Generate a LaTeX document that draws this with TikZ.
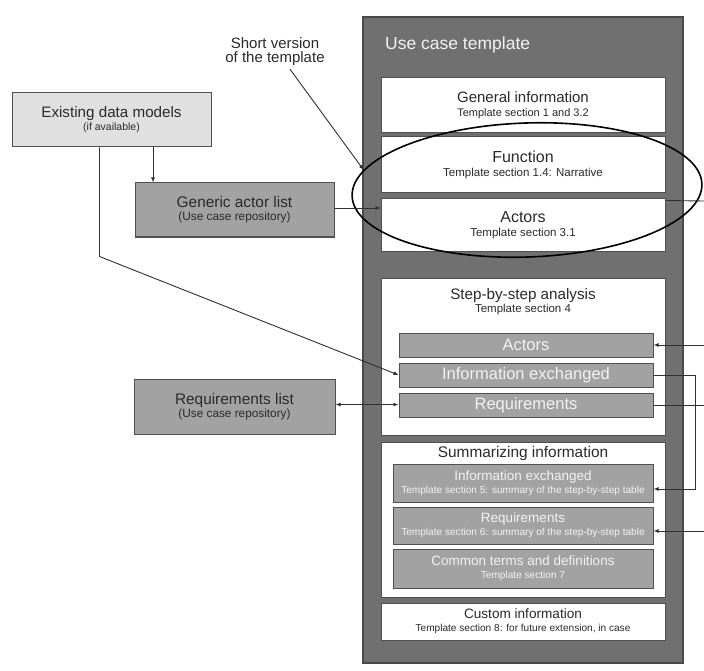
\documentclass[tikz,border=0pt]{standalone}
\usepackage{fontspec}
\setmainfont{Liberation Sans}
\usetikzlibrary{shapes.geometric,arrows.meta}
\definecolor{bigfill}{HTML}{707070}
\definecolor{bigline}{HTML}{4A4A4A}
\definecolor{midfill}{HTML}{A2A2A2}
\definecolor{lightfill}{HTML}{E0E0E0}
\definecolor{edge}{HTML}{505050}
\definecolor{wtext}{HTML}{F2F2F2}
\definecolor{dtext}{HTML}{2A2A2A}
\definecolor{conn}{HTML}{303030}
\newcommand{\fs}[2]{{\fontsize{#1}{#1}\selectfont #2}}
\begin{document}
\begin{tikzpicture}[x=1pt,y=-1pt,
  box/.style={draw=edge,line width=1pt,inner sep=0pt,align=center,text=dtext},
  whitebox/.style={box,fill=white},
  greybox/.style={box,fill=midfill},
  bar/.style={box,fill=midfill,text=wtext},
  conline/.style={draw=conn,line width=0.9pt},
  arr/.style={conline,-{Latex[length=5pt,width=4pt]}},
  dblarr/.style={conline,{Latex[length=5pt,width=4pt]}-{Latex[length=5pt,width=4pt]}}]
\useasboundingbox (0,0) rectangle (704,671);
\fill[white] (0,0) rectangle (704,671);

% big template box
\node[draw=bigline,fill=bigfill,line width=1.2pt,minimum width=320pt,minimum height=646pt,inner sep=0pt] (big) at (523,340) {};
\node[anchor=west,text=wtext,inner sep=0pt] (bigtitle) at (385,45) {\fs{17.5}{Use case template}};

% upper white boxes
\node[whitebox,minimum width=284pt,minimum height=55pt] (gen) at (523,105.5)
  {\fs{15}{General information}\\[2pt]\fs{11}{Template section 1 and 3.2}};
\node[whitebox,minimum width=284pt,minimum height=56pt] (func) at (523,165)
  {\fs{16}{Function}\\[2pt]\fs{11.5}{Template section 1.4: Narrative}};
\node[whitebox,minimum width=284pt,minimum height=52pt] (act) at (523,225)
  {\fs{16}{Actors}\\[2pt]\fs{11.5}{Template section 3.1}};

% step-by-step
\node[whitebox,minimum width=284pt,minimum height=157pt] (step) at (523,356.5) {};
\node[inner sep=0pt,text=dtext,align=center,anchor=north] (steptitle) at (523,288)
  {\fs{15.2}{Step-by-step analysis}\\[1pt]\fs{11.5}{Template section 4}};
\node[bar,minimum width=254pt,minimum height=24pt] (sact) at (526,345) {\fs{16.5}{Actors}};
\node[bar,minimum width=254pt,minimum height=24pt] (sinfo) at (526,375) {\fs{16.5}{Information exchanged}};
\node[bar,minimum width=254pt,minimum height=24pt] (sreq) at (526,405) {\fs{16.5}{Requirements}};

% summarizing
\node[whitebox,minimum width=284pt,minimum height=155pt] (summ) at (523,519.5) {};
\node[inner sep=0pt,text=dtext,anchor=north] (summtitle) at (523,446) {\fs{15.4}{Summarizing information}};
\node[bar,minimum width=260pt,minimum height=38pt] (qinfo) at (523,483)
  {\fs{13.5}{Information exchanged}\\[1pt]\fs{10.1}{Template section 5: summary of the step-by-step table}};
\node[bar,minimum width=260pt,minimum height=37pt] (qreq) at (523,525.5)
  {\fs{13.5}{Requirements}\\[1pt]\fs{10.1}{Template section 6: summary of the step-by-step table}};
\node[bar,minimum width=260pt,minimum height=39pt] (qterm) at (523,568.5)
  {\fs{13.5}{Common terms and definitions}\\[1pt]\fs{10.1}{Template section 7}};

\node[whitebox,minimum width=284pt,minimum height=37pt] (cust) at (523,621.5)
  {\fs{13.6}{Custom information}\\[1pt]\fs{10.1}{Template section 8: for future extension, in case}};

% ellipse
\node[draw=black,line width=1.6pt,ellipse,minimum width=350pt,minimum height=134pt,inner sep=0pt,rotate=2] (ell) at (527,190) {};

% left boxes
\node[box,fill=lightfill,minimum width=199pt,minimum height=54pt] (edm) at (111.5,120)
  {\fs{15.2}{Existing data models}\\[1pt]\fs{10.5}{(if available)}};
\node[greybox,minimum width=199pt,minimum height=54pt] (gal) at (234.5,210)
  {\fs{15.4}{Generic actor list}\\[1pt]\fs{11.8}{(Use case repository)}};
\node[greybox,minimum width=201pt,minimum height=55pt] (rl) at (234.5,406.5)
  {\fs{15.4}{Requirements list}\\[1pt]\fs{11.8}{(Use case repository)}};

\node[inner sep=0pt,align=center,text=dtext] (short) at (275,52)
  {\fs{15}{Short version}\\[2pt]\fs{15}{of the template}};

% right-edge free ends
\coordinate (rA) at (704,201);
\coordinate (rB) at (704,345);
\coordinate (rC) at (704,405);
\coordinate (rD) at (704,531);

% connectors
\draw[arr] ([xshift=15pt,yshift=-3pt]short.south) -- (ell.171);
\draw[arr] ([xshift=41.5pt]edm.south) -- ([xshift=41.5pt]edm.south |- gal.north);
\draw[arr] ([xshift=-12pt]edm.south) -- ++(0,109) -- (sinfo.west);
\draw[arr] ([yshift=2pt]gal.east) -- ([yshift=2pt]gal.east -| act.west);
\draw[dblarr] ([yshift=2pt]rl.east) -- ([yshift=2pt]rl.east -| sreq.west);
\draw[conline] ([yshift=-2pt]act.north east) -- (rA);
\draw[arr] (rB) -- (sact.east);
\draw[arr] (sinfo.east) -- ++(42,0) |- ([yshift=-6pt]qinfo.east);
\draw[conline] (sreq.east) -- (rC);
\draw[arr] (rD) -- (rD -| qreq.east);
\end{tikzpicture}
\end{document}
